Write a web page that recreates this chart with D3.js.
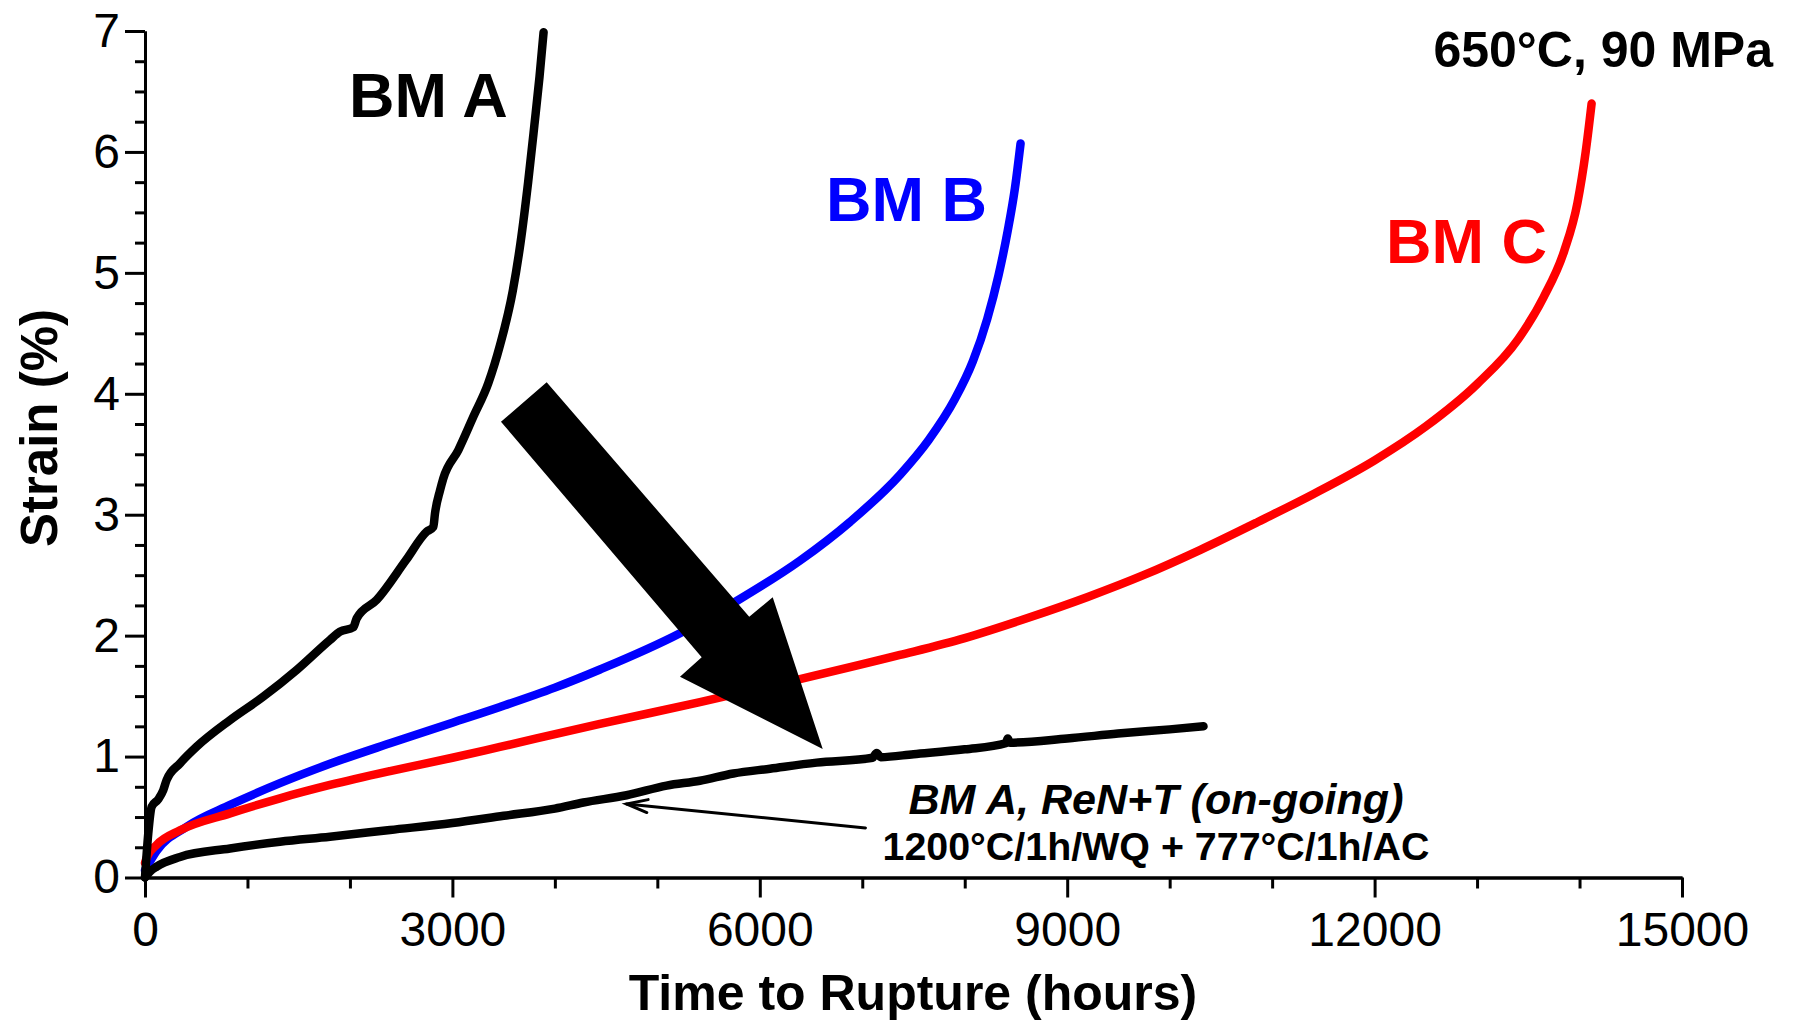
<!DOCTYPE html>
<html>
<head>
<meta charset="utf-8">
<title>Creep strain vs time, 650°C / 90 MPa</title>
<script src="https://cdn.jsdelivr.net/npm/d3@7"></script>
<style>
  body { margin: 0; background: #fff; }
  svg { display: block; }
  text { font-family: "Liberation Sans", Arial, Helvetica, sans-serif; fill: #000; }
</style>
</head>
<body>
<svg id="chart" width="1793" height="1023"></svg>
<script>
// ---- Creep curves (time in hours, strain in %) ----
const bmATime   = [0, 32, 65, 130, 179, 211, 342, 504, 830, 1154, 1480, 1805, 1903, 2033, 2066, 2261, 2546, 2749, 2814, 2830, 2879, 2911, 3058, 3204, 3350, 3464, 3589, 3665, 3739, 3800, 3850, 3890];
const bmAStrain = [0, 0.365, 0.585, 0.647, 0.724, 0.806, 0.944, 1.082, 1.302, 1.495, 1.716, 1.964, 2.033, 2.069, 2.143, 2.295, 2.623, 2.86, 2.90, 3.01, 3.20, 3.30, 3.535, 3.81, 4.087, 4.40, 4.85, 5.25, 5.75, 6.22, 6.62, 6.99];

const bmBTime   = [0, 114, 407, 830, 1317, 1805, 2391, 3000, 3464, 4000, 4440, 5221, 5742, 6392, 6880, 7368, 7650, 7900, 8080, 8220, 8330, 8420, 8490, 8545];
const bmBStrain = [0.06, 0.22, 0.42, 0.60, 0.78, 0.94, 1.11, 1.28, 1.41, 1.57, 1.72, 2.02, 2.27, 2.62, 2.94, 3.33, 3.62, 3.95, 4.27, 4.62, 4.98, 5.35, 5.70, 6.07];

const bmCTime   = [0, 20, 114, 342, 830, 1317, 1805, 2391, 3000, 3464, 4440, 5416, 6392, 7368, 8000, 8628, 9200, 9744, 10300, 10860, 11400, 12000, 12500, 13000, 13400, 13650, 13850, 13980, 14060, 14118];
const bmCStrain = [0.12, 0.17, 0.27, 0.39, 0.53, 0.655, 0.765, 0.88, 0.99, 1.08, 1.27, 1.45, 1.64, 1.84, 1.98, 2.15, 2.32, 2.50, 2.71, 2.94, 3.17, 3.45, 3.73, 4.08, 4.45, 4.80, 5.18, 5.58, 6.00, 6.40];

const renTime   = [0, 50, 114, 342, 830, 1317, 1805, 2391, 3000, 3500, 4000, 4278, 4700, 5091, 5416, 5742, 6100, 6555, 7100, 7140, 7180, 7500, 8000, 8400, 8420, 8440, 9000, 9496, 10000, 10330];
const renStrain = [0, 0.05, 0.09, 0.17, 0.24, 0.296, 0.337, 0.393, 0.45, 0.51, 0.57, 0.62, 0.68, 0.76, 0.80, 0.86, 0.90, 0.95, 0.99, 1.03, 0.995, 1.02, 1.06, 1.11, 1.15, 1.115, 1.15, 1.19, 1.225, 1.25];

// ---- Axis ticks ----
const xMajorTicks = [0, 3000, 6000, 9000, 12000, 15000];
const xMinorTicks = [1000, 2000, 4000, 5000, 7000, 8000, 10000, 11000, 13000, 14000];
const yMajorTicks = [0, 1, 2, 3, 4, 5, 6, 7];
const yMinorTicks = d3.range(0, 7.0001, 0.25).filter(v => Math.abs(v - Math.round(v)) > 1e-6);

// ---- Annotation geometry (data units) ----
const bigArrowTime   = [3474, 3920, 5897, 6126, 6614, 5221, 5433];
const bigArrowStrain = [3.769, 4.095, 2.157, 2.317, 1.063, 1.660, 1.821];
const pointerTime   = [7031, 4700];
const pointerStrain = [0.41, 0.608];

const series = [
  { name: "BM B", color: "#0000ff", t: bmBTime, s: bmBStrain },
  { name: "BM C", color: "#ff0000", t: bmCTime, s: bmCStrain },
  { name: "BM A", color: "#000000", t: bmATime, s: bmAStrain },
  { name: "BM A, ReN+T", color: "#000000", t: renTime, s: renStrain }
];

const svg = d3.select("#chart");
const x = d3.scaleLinear().domain([0, 15000]).range([145, 1682]);
const y = d3.scaleLinear().domain([0, 7]).range([877.5, 31]);

// ---- Curves ----
const line = d3.line()
  .x(d => x(d[0]))
  .y(d => y(d[1]))
  .curve(d3.curveMonotoneX);

svg.append("g").selectAll("path")
  .data(series)
  .join("path")
  .attr("d", d => line(d.t.map((t, i) => [t, d.s[i]])))
  .attr("fill", "none")
  .attr("stroke", d => d.color)
  .attr("stroke-width", 8.5)
  .attr("stroke-linecap", "round")
  .attr("stroke-linejoin", "round");

// ---- Large block arrow ----
svg.append("polygon")
  .attr("points", bigArrowTime.map((t, i) => [x(t), y(bigArrowStrain[i])].join(",")).join(" "))
  .attr("fill", "#000");

// ---- Thin pointer arrow to the ReN+T curve ----
{
  const x0 = x(pointerTime[0]), y0 = y(pointerStrain[0]);
  const x1 = x(pointerTime[1]), y1 = y(pointerStrain[1]);
  const ang = Math.atan2(y0 - y1, x0 - x1);
  const L = 22, spread = 0.3;
  const g = svg.append("g").attr("stroke", "#000").attr("stroke-width", 3).attr("fill", "none")
    .attr("stroke-linecap", "round").attr("stroke-linejoin", "miter");
  g.append("line").attr("x1", x0).attr("y1", y0).attr("x2", x1).attr("y2", y1);
  g.append("path").attr("d",
    `M${x1 + L * Math.cos(ang - spread)},${y1 + L * Math.sin(ang - spread)} L${x1},${y1} L${x1 + L * Math.cos(ang + spread)},${y1 + L * Math.sin(ang + spread)}`);
}

// ---- Axes ----
function styleAxis(g) {
  g.select(".domain").attr("stroke", "#000").attr("stroke-width", 3);
  g.selectAll(".tick line").attr("stroke", "#000").attr("stroke-width", 3);
  g.selectAll(".tick text").attr("font-size", 48).attr("fill", "#000");
}

svg.append("g")
  .attr("transform", `translate(0,${y(0)})`)
  .call(d3.axisBottom(x).tickValues(xMinorTicks).tickSize(11).tickSizeOuter(0).tickFormat(""))
  .call(styleAxis);
svg.append("g")
  .attr("transform", `translate(0,${y(0)})`)
  .call(d3.axisBottom(x).tickValues(xMajorTicks).tickSize(20).tickSizeOuter(0).tickPadding(14).tickFormat(d3.format("d")))
  .call(styleAxis);

svg.append("g")
  .attr("transform", `translate(${x(0)},0)`)
  .call(d3.axisLeft(y).tickValues(yMinorTicks).tickSize(10).tickSizeOuter(0).tickFormat(""))
  .call(styleAxis);
svg.append("g")
  .attr("transform", `translate(${x(0)},0)`)
  .call(d3.axisLeft(y).tickValues(yMajorTicks).tickSize(20).tickSizeOuter(0).tickPadding(5).tickFormat(d3.format("d")))
  .call(styleAxis);

svg.selectAll(".domain").attr("fill", "none");

// ---- Axis titles ----
svg.append("text")
  .attr("x", 913).attr("y", 1010)
  .attr("text-anchor", "middle")
  .attr("font-size", 50).attr("font-weight", "bold")
  .text("Time to Rupture (hours)");

svg.append("text")
  .attr("transform", "translate(57,428) rotate(-90)")
  .attr("text-anchor", "middle")
  .attr("font-size", 51).attr("font-weight", "bold")
  .text("Strain (%)");

// ---- Curve labels ----
const labels = [
  { text: "BM A", x: 349, y: 117, color: "#000000" },
  { text: "BM B", x: 826, y: 221, color: "#0000ff" },
  { text: "BM C", x: 1386, y: 263, color: "#ff0000" }
];
svg.append("g").selectAll("text")
  .data(labels)
  .join("text")
  .attr("x", d => d.x).attr("y", d => d.y)
  .attr("font-size", 63).attr("font-weight", "bold")
  .style("fill", d => d.color)
  .text(d => d.text);

svg.append("text")
  .attr("x", 1773).attr("y", 67)
  .attr("text-anchor", "end")
  .attr("font-size", 50).attr("font-weight", "bold")
  .text("650°C, 90 MPa");

svg.append("text")
  .attr("x", 1156).attr("y", 814)
  .attr("text-anchor", "middle")
  .attr("font-size", 42).attr("font-weight", "bold").attr("font-style", "italic")
  .attr("textLength", 495).attr("lengthAdjust", "spacingAndGlyphs")
  .text("BM A, ReN+T (on-going)");

svg.append("text")
  .attr("x", 1156).attr("y", 860)
  .attr("text-anchor", "middle")
  .attr("font-size", 39).attr("font-weight", "bold")
  .attr("textLength", 547).attr("lengthAdjust", "spacingAndGlyphs")
  .text("1200°C/1h/WQ + 777°C/1h/AC");
</script>
</body>
</html>
